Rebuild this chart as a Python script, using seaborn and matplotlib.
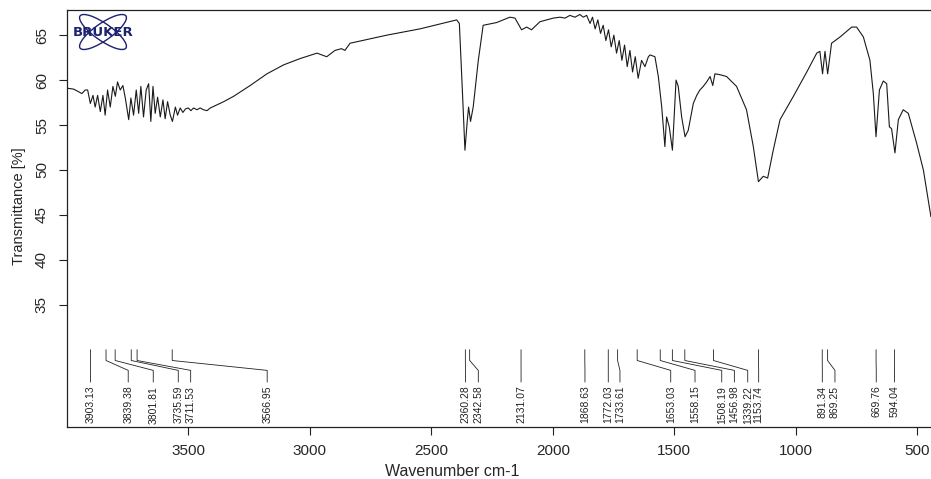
import numpy as np
import pandas as pd
import matplotlib
matplotlib.use('Agg')
import matplotlib.pyplot as plt
from matplotlib.patches import Ellipse
import seaborn as sns

# spectrum (wavenumber cm-1, transmittance %)
wavenumber = [4000, 3973, 3952, 3939, 3925, 3915, 3904, 3893, 3884, 3874,
              3863, 3852, 3843, 3833, 3822, 3811, 3801, 3792, 3781, 3770,
              3760, 3746, 3737, 3726, 3715, 3705, 3696, 3685, 3674, 3664,
              3655, 3646, 3637, 3627, 3616, 3605, 3596, 3586, 3575, 3566,
              3554, 3545, 3534, 3523, 3512, 3501, 3490, 3479, 3465, 3452,
              3438, 3424, 3410, 3355, 3314, 3246, 3177, 3108, 3040, 2971,
              2931, 2897, 2870, 2856, 2835, 2684, 2547, 2396, 2385, 2372,
              2362, 2352, 2347, 2339, 2328, 2307, 2287, 2232, 2177, 2156,
              2129, 2108, 2088, 2053, 2026, 1998, 1971, 1950, 1930, 1909,
              1889, 1875, 1861, 1847, 1837, 1826, 1815, 1804, 1793, 1782,
              1771, 1760, 1749, 1738, 1727, 1716, 1705, 1694, 1683, 1672,
              1661, 1649, 1635, 1621, 1607, 1600, 1580, 1566, 1552, 1539,
              1532, 1521, 1508, 1493, 1484, 1470, 1456, 1443, 1422, 1408,
              1395, 1381, 1367, 1353, 1342, 1333, 1312, 1285, 1244, 1203,
              1175, 1154, 1134, 1116, 1093, 1065, 1010, 955, 914, 901,
              890, 880, 869, 853, 818, 770, 750, 722, 695, 681,
              670, 656, 640, 626, 615, 606, 592, 578, 558, 537,
              503, 475, 444]
transmittance = [59.1, 59.0, 58.7, 58.5, 58.9, 58.9, 57.4, 58.3, 57.0, 58.3,
                 56.5, 58.3, 56.1, 58.9, 57.0, 59.3, 58.2, 59.8, 58.9, 59.4,
                 58.0, 55.6, 58.0, 56.1, 58.9, 56.3, 59.3, 55.9, 58.9, 59.6,
                 55.4, 59.3, 56.3, 58.1, 55.9, 57.8, 55.7, 57.6, 56.1, 55.4,
                 57.0, 56.1, 56.9, 56.4, 56.8, 56.9, 56.6, 56.9, 56.7, 56.9,
                 56.7, 56.6, 56.9, 57.6, 58.2, 59.4, 60.7, 61.7, 62.4, 63.0,
                 62.6, 63.3, 63.5, 63.3, 64.1, 65.0, 65.7, 66.7, 66.3, 58.5,
                 52.2, 55.6, 57.0, 55.4, 57.0, 62.2, 66.1, 66.4, 67.0, 66.9,
                 65.6, 65.9, 65.6, 66.5, 66.7, 66.9, 67.0, 66.9, 67.2, 67.0,
                 67.3, 67.0, 67.2, 66.3, 67.0, 65.7, 66.7, 65.2, 66.1, 64.4,
                 65.6, 63.7, 65.0, 63.0, 64.4, 62.2, 63.9, 61.5, 63.3, 60.9,
                 62.6, 60.2, 62.2, 61.5, 62.6, 62.8, 62.6, 60.4, 57.0, 52.6,
                 55.9, 54.8, 52.2, 60.0, 59.3, 55.9, 53.7, 54.4, 57.4, 58.3,
                 58.9, 59.3, 59.8, 60.4, 59.4, 60.7, 60.6, 60.4, 59.3, 56.7,
                 52.6, 48.7, 49.3, 49.1, 52.2, 55.6, 58.2, 60.9, 63.0, 63.2,
                 60.7, 63.2, 60.7, 64.1, 64.8, 65.9, 65.9, 64.8, 62.2, 58.5,
                 53.7, 58.9, 59.9, 59.6, 54.8, 54.6, 51.9, 55.6, 56.7, 56.3,
                 53.0, 50.0, 44.8]

# picked peaks and where their labels sit along the axis
peaks = [3903.13, 3839.38, 3801.81, 3735.59, 3711.53, 3566.95,
         2360.28, 2342.58, 2131.07, 1868.63, 1772.03, 1733.61,
         1653.03, 1558.15, 1508.19, 1456.98, 1339.22, 1153.74,
         891.34, 869.25, 669.76, 594.04]
label_x = [3903, 3748, 3645, 3542, 3491, 3176,
           2360, 2307, 2131, 1868, 1772, 1724,
           1515, 1415, 1305, 1253, 1198, 1153,
           891, 839, 669, 594]

yticks = [35, 40, 45, 50, 55, 60, 65]
xticks = [500, 1000, 1500, 2000, 2500, 3000, 3500]

df = pd.DataFrame({'wn': wavenumber, 'T': transmittance})

sns.set_style('ticks')
plt.rcParams['font.family'] = ['Liberation Sans', 'DejaVu Sans']

fig = plt.figure(figsize=(9.31, 4.79), dpi=100)
ax = fig.add_axes([67 / 931, 52 / 479, 874.6 / 931, 417 / 479])

sns.lineplot(data=df, x='wn', y='T', ax=ax, color='#1a1a1a', linewidth=0.8)

for p, q in zip(peaks, label_x):
    ax.plot([p, p, q, q], [30.0, 28.8, 27.7, 26.4], color='#222222', lw=0.6)
    ax.text(q, 26.0, f'{p:.2f}', rotation=90, ha='center', va='top',
            fontsize=7.5, color='#222222')

ax.set_xlim(4000, 400)
ax.set_ylim(21.4, 67.8)
ax.set_xticks(xticks)
ax.set_yticks(yticks)
ax.tick_params(axis='both', labelsize=11, length=6, width=0.8, color='#222222')
ax.tick_params(axis='x', pad=6)
ax.tick_params(axis='y', pad=7)
for lab in ax.get_yticklabels():
    lab.set_rotation(90)
    lab.set_va('center')
ax.set_xlabel('Wavenumber cm-1', fontsize=11.5)
ax.set_ylabel('Transmittance [%]', fontsize=10.5)
ax.xaxis.set_label_coords(0.44, -0.088)
ax.yaxis.set_label_coords(-0.047, 0.53)

for side in ['left', 'bottom', 'top']:
    ax.spines[side].set_visible(True)
    ax.spines[side].set_linewidth(0.9)
    ax.spines[side].set_color('#222222')
ax.spines['right'].set_visible(False)

# Bruker logo in the upper left corner
navy = '#1c2170'
for ang in [35, -35]:
    fig.add_artist(Ellipse((1.03, 4.47), 0.56, 0.17, angle=ang, fill=False,
                           edgecolor=navy, lw=1.0,
                           transform=fig.dpi_scale_trans))
fig.text(1.03 / 9.31, 4.47 / 4.79, 'BRUKER', ha='center', va='center',
         fontsize=9.5, fontweight='bold', color=navy, family='DejaVu Sans')

fig.savefig('out.png', dpi=100)
